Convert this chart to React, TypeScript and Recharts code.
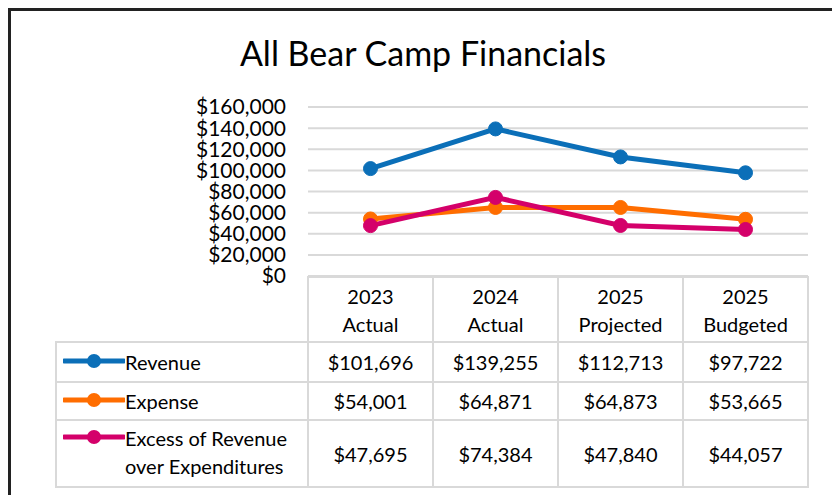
import React from "react";
import { LineChart, Line, XAxis, YAxis, CartesianGrid } from "recharts";

const categories = ["2023 Actual", "2024 Actual", "2025 Projected", "2025 Budgeted"];
const headerTop = ["2023", "2024", "2025", "2025"];
const headerBottom = ["Actual", "Actual", "Projected", "Budgeted"];
const revenue = [101696, 139255, 112713, 97722];
const expense = [54001, 64871, 64873, 53665];
const excess = [47695, 74384, 47840, 44057];
const yTicks = [0, 20000, 40000, 60000, 80000, 100000, 120000, 140000, 160000];

const FONT = "Lato, 'Open Sans', sans-serif";
const GRID = "#d9d9d9";

const series = [
  { key: "revenue", name: "Revenue", values: revenue, color: "#0b6fb8" },
  { key: "expense", name: "Expense", values: expense, color: "#ff6d00" },
  { key: "excess", name: "Excess of Revenue over Expenditures", values: excess, color: "#d4006a" },
];

const data = categories.map((c, i) => ({
  name: c,
  revenue: revenue[i],
  expense: expense[i],
  excess: excess[i],
}));

const money = (v: number) => "$" + v.toLocaleString("en-US");

function LegendKey({ color }: { color: string }) {
  return (
    <svg width={62} height={16} style={{ flex: "none", marginTop: 5 }}>
      <line x1={1} y1={8} x2={61} y2={8} stroke={color} strokeWidth={5} strokeLinecap="round" />
      <circle cx={31} cy={8} r={7} fill={color} />
    </svg>
  );
}

const cell: React.CSSProperties = {
  border: `2px solid ${GRID}`,
  padding: 0,
  textAlign: "center",
  verticalAlign: "middle",
};

export default function App() {
  const rowHeights = [40, 38, 67];
  return (
    <div style={{ position: "relative", width: 832, height: 487, fontFamily: FONT, color: "#000" }}>
      <div
        style={{
          position: "absolute",
          left: 0,
          top: 0,
          width: 831,
          height: 487,
          boxSizing: "border-box",
          border: "3px solid #222",
          borderBottom: "none",
        }}
      />
      <div
        style={{
          position: "absolute",
          left: 0,
          width: 830,
          top: 25,
          textAlign: "center",
          fontSize: 34,
          lineHeight: "40px",
        }}
      >
        All Bear Camp Financials
      </div>

      <div style={{ position: "absolute", left: 0, top: 0 }}>
        <LineChart
          width={830}
          height={290}
          data={data}
          margin={{ top: 99, right: 30, bottom: 22, left: 200 }}
        >
          <CartesianGrid vertical={false} stroke={GRID} strokeWidth={2} />
          <XAxis dataKey="name" hide padding={{ left: 62.5, right: 62.5 }} />
          <YAxis
            width={100}
            domain={[0, 160000]}
            ticks={yTicks}
            interval={0}
            tickFormatter={money}
            axisLine={false}
            tickLine={false}
            tickSize={0}
            tickMargin={22}
            tick={{ fill: "#000", fontSize: 21, fontFamily: FONT }}
          />
          {series.map((s) => (
            <Line
              key={s.key}
              type="linear"
              dataKey={s.key}
              stroke={s.color}
              strokeWidth={5}
              dot={{ r: 7, fill: s.color, stroke: s.color, strokeWidth: 1 }}
              isAnimationActive={false}
            />
          ))}
        </LineChart>
      </div>

      <table
        style={{
          position: "absolute",
          left: 47,
          top: 268,
          borderCollapse: "collapse",
          tableLayout: "fixed",
          fontSize: 20,
          fontFamily: FONT,
          width: 752,
        }}
      >
        <colgroup>
          <col style={{ width: 252 }} />
          {categories.map((c) => (
            <col key={c} style={{ width: 125 }} />
          ))}
        </colgroup>
        <tbody>
          <tr style={{ height: 65 }}>
            <td style={{ ...cell, border: "none" }} />
            {categories.map((c, i) => (
              <td key={c} style={{ ...cell, lineHeight: "28px" }}>
                {headerTop[i]}
                <br />
                {headerBottom[i]}
              </td>
            ))}
          </tr>
          {series.map((s, r) => (
            <tr key={s.key} style={{ height: rowHeights[r] }}>
              <td style={{ ...cell, textAlign: "left" }}>
                <div
                  style={{
                    display: "flex",
                    alignItems: "flex-start",
                    paddingLeft: 6,
                    lineHeight: "28px",
                    marginTop: s.key === "excess" ? -4 : 0,
                  }}
                >
                  <LegendKey color={s.color} />
                  <span>
                    {s.key === "excess" ? (
                      <>
                        Excess of Revenue
                        <br />
                        over Expenditures
                      </>
                    ) : (
                      s.name
                    )}
                  </span>
                </div>
              </td>
              {s.values.map((v, i) => (
                <td key={i} style={cell}>
                  {money(v)}
                </td>
              ))}
            </tr>
          ))}
        </tbody>
      </table>
    </div>
  );
}
